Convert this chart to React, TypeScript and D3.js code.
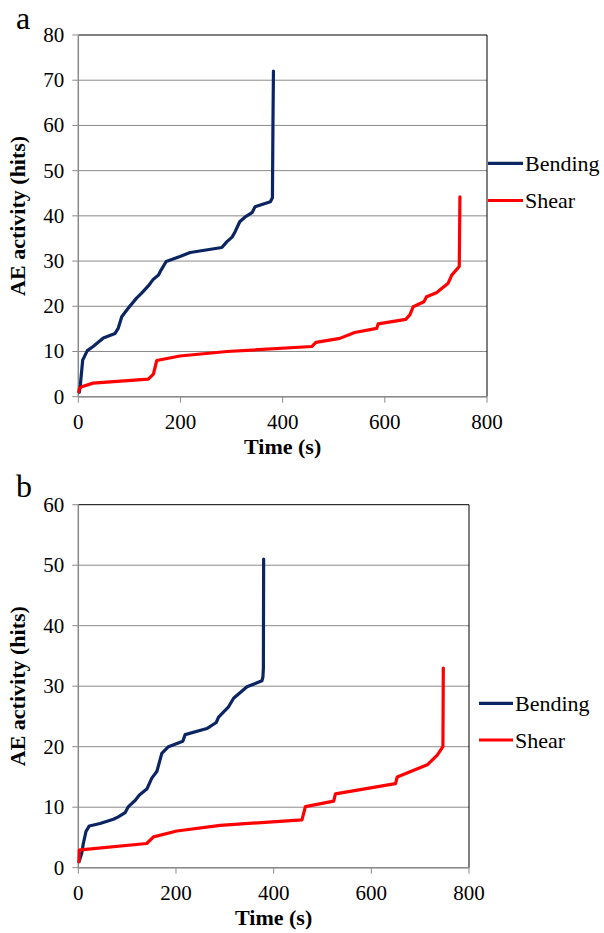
import React from "react";
import * as d3 from "d3";

type Pt = [number, number];

// Chart a data (time s, hits)
const bendingA: Pt[] = [
  [2, 1], [4, 2.6], [8.6, 8.1], [17.6, 10.2], [29, 11.1], [49, 13], [72, 14], [78, 15.1],
  [85, 17.7], [98, 19.6], [114, 21.8], [124, 22.9], [137, 24.5], [147, 26], [157, 26.9],
  [162, 28], [172, 29.9], [199, 31], [219, 31.9], [281, 33], [291, 34.3], [301, 35.3],
  [307, 36.5], [316, 38.7], [326, 39.7], [340, 40.7], [346, 42], [376, 43.1], [380, 44],
  [381, 60], [382, 72],
];
const shearA: Pt[] = [
  [1, 1.1], [2, 1.8], [6.6, 2.2], [29, 3], [137, 3.9], [147, 5], [153.5, 8], [199, 9],
  [291, 10], [457, 11.1], [465, 12], [512, 12.9], [541, 14.2], [584, 15.1], [587, 16.1],
  [641, 17.1], [649, 18.1], [655.6, 19.9], [676.5, 21], [681.7, 22.1], [701, 23], [724, 25.1],
  [731, 26.9], [745.7, 28.8], [747, 44.2],
];

// Chart b data
const bendingB: Pt[] = [
  [1.4, 1], [7, 2.4], [10.3, 4], [15.8, 6], [22.6, 6.9], [44.5, 7.3], [71.8, 8], [82, 8.4],
  [95.8, 9.1], [102.6, 10.1], [116.3, 11.1], [125.1, 12], [140.3, 13], [150.5, 14.8],
  [160.8, 15.9], [171, 18.9], [184.6, 20], [214, 20.9], [218.8, 22], [263.3, 23], [282.4, 24],
  [287.2, 24.9], [307.7, 26.6], [318, 28], [345.4, 29.9], [376, 30.9], [378, 31.5], [379, 33],
  [379.5, 51],
];
const shearB: Pt[] = [
  [1.4, 1], [2, 2.9], [10, 3], [140, 4], [154, 5.1], [201.8, 6.07], [290.6, 7], [458, 7.9],
  [465, 10.1], [523, 11], [526.5, 12.2], [649.6, 13.9], [653, 15], [714.6, 17], [735, 18.6],
  [746.6, 20], [747.4, 33],
];

const xTicks = [0, 200, 400, 600, 800];
const yTicksA = [0, 10, 20, 30, 40, 50, 60, 70, 80];
const yTicksB = [0, 10, 20, 30, 40, 50, 60];
const seriesNames = ["Bending", "Shear"];
const seriesColors = ["#0b2563", "#ff0000"];

const GRID = "#8a8a8a";
const SERIF = "Liberation Serif";

interface ChartProps {
  label: string;
  labelY: number;
  series: Pt[][];
  yTicks: number[];
  left: number;
  right: number;
  top: number;
  bottom: number;
  legendX0: number;
  legendX1: number;
  legendY: number[];
}

function Chart(p: ChartProps) {
  const x = d3.scaleLinear().domain([0, 800]).range([p.left, p.right]);
  const yMax = p.yTicks[p.yTicks.length - 1];
  const y = d3.scaleLinear().domain([0, yMax]).range([p.bottom, p.top]);
  const line = d3
    .line<Pt>()
    .x((d) => x(d[0]))
    .y((d) => y(d[1]));
  const midY = (p.top + p.bottom) / 2;
  const midX = (p.left + p.right) / 2;
  return (
    <g>
      <text x={16} y={p.labelY} fontSize={32} style={{ fontFamily: SERIF }}>{p.label}</text>
      {p.yTicks.map((t) => (
        <line key={"g" + t} x1={p.left} x2={p.right} y1={y(t)} y2={y(t)} stroke={t === yMax ? "#000" : GRID} strokeWidth={1} />
      ))}
      <line x1={p.right} x2={p.right} y1={p.top} y2={p.bottom} stroke="#000" strokeWidth={1} />
      <line x1={p.left} x2={p.left} y1={p.top} y2={p.bottom} stroke={GRID} strokeWidth={1.5} />
      {p.yTicks.map((t) => (
        <g key={"y" + t}>
          <line x1={p.left - 6} x2={p.left} y1={y(t)} y2={y(t)} stroke={GRID} />
          <text x={p.left - 14} y={y(t) + 7} fontSize={21} textAnchor="end" style={{ fontFamily: SERIF }}>{String(t)}</text>
        </g>
      ))}
      <line x1={p.left} x2={p.right} y1={p.bottom} y2={p.bottom} stroke={GRID} strokeWidth={1.5} />
      {xTicks.map((t) => (
        <g key={"x" + t}>
          <line x1={x(t)} x2={x(t)} y1={p.bottom} y2={p.bottom + 6} stroke={GRID} />
          <text x={x(t)} y={p.bottom + 32} fontSize={21} textAnchor="middle" style={{ fontFamily: SERIF }}>{String(t)}</text>
        </g>
      ))}
      <text x={midX} y={p.bottom + 57.5} fontSize={22} fontWeight="bold" textAnchor="middle" style={{ fontFamily: SERIF }}>Time (s)</text>
      <text transform={`translate(25,${midY}) rotate(-90)`} fontSize={22} fontWeight="bold" textAnchor="middle" style={{ fontFamily: SERIF }}>AE activity (hits)</text>
      {p.series.map((s, i) => (
        <path key={"s" + i} d={line(s) || ""} fill="none" stroke={seriesColors[i]} strokeWidth={3.2} strokeLinejoin="round" strokeLinecap="round" />
      ))}
      {seriesNames.map((n, i) => (
        <g key={"l" + i}>
          <line x1={p.legendX0} x2={p.legendX1} y1={p.legendY[i]} y2={p.legendY[i]} stroke={seriesColors[i]} strokeWidth={3.2} />
          <text x={p.legendX1 + 2} y={p.legendY[i] + 7.5} fontSize={22} style={{ fontFamily: SERIF }}>{n}</text>
        </g>
      ))}
    </g>
  );
}

export default function App() {
  return (
    <svg width={604} height={933} style={{ position: "absolute", left: 0, top: 0 }}>
      <Chart
        label="a"
        labelY={29}
        series={[bendingA, shearA]}
        yTicks={yTicksA}
        left={78.3}
        right={487}
        top={35}
        bottom={396.7}
        legendX0={488}
        legendX1={523}
        legendY={[163.3, 200.5]}
      />
      <Chart
        label="b"
        labelY={497}
        series={[bendingB, shearB]}
        yTicks={yTicksB}
        left={78.3}
        right={469}
        top={504.7}
        bottom={867.7}
        legendX0={479}
        legendX1={513}
        legendY={[703.3, 740]}
      />
    </svg>
  );
}
